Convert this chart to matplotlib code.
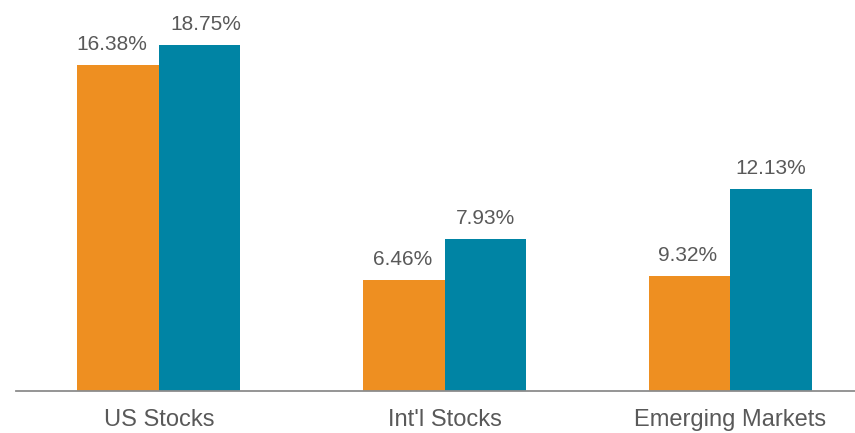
import matplotlib
matplotlib.use("Agg")
import matplotlib.pyplot as plt
import numpy as np

categories = ["US Stocks", "Int'l Stocks", "Emerging Markets"]
# bar heights as drawn in the picture (axis units, 0-20 scale)
series_a_heights = [16.67, 5.67, 5.87]
series_b_heights = [17.70, 7.77, 10.33]
# data labels as printed in the picture
series_a_labels = ["16.38%", "6.46%", "9.32%"]
series_b_labels = ["18.75%", "7.93%", "12.13%"]

orange = "#EE8F21"
teal = "#0084A4"
text_gray = "#595959"

plt.rcParams['font.family'] = ['Liberation Sans', 'DejaVu Sans']

fig = plt.figure(figsize=(8.55, 4.33), dpi=100)
ax = fig.add_axes([16/855, 42.3/433, 1 - 16/855, 1 - 42.3/433])

x = np.arange(len(categories))
w = 0.285
ba = ax.bar(x - w/2, series_a_heights, width=w, color=orange, linewidth=0)
bb = ax.bar(x + w/2, series_b_heights, width=w, color=teal, linewidth=0)

# small horizontal nudges of the labels (points), layout only
nudge_a = [-4.3, -0.7, -1.8]
nudge_b = [4.3, 0, 0]
for bars, labels, nudges in ((ba, series_a_labels, nudge_a), (bb, series_b_labels, nudge_b)):
    for rect, lab, dx in zip(bars, labels, nudges):
        ax.annotate(lab, (rect.get_x() + rect.get_width()/2, rect.get_height()),
                    xytext=(dx, 10.8), textcoords="offset points",
                    ha="center", va="baseline", fontsize=15, color=text_gray)

ax.set_xlim(-0.5, 2.436)
ax.set_ylim(0, 20)
ax.set_xticks(x)
ax.set_xticklabels(categories, fontsize=17, color=text_gray)
ax.tick_params(axis="x", length=0, pad=13)
ax.set_yticks([])
for s in ("left", "right", "top"):
    ax.spines[s].set_visible(False)
ax.spines["bottom"].set_color("#8C8C8C")
ax.spines["bottom"].set_linewidth(1.3)
ax.patch.set_visible(False)

fig.savefig("out.png", dpi=100)
